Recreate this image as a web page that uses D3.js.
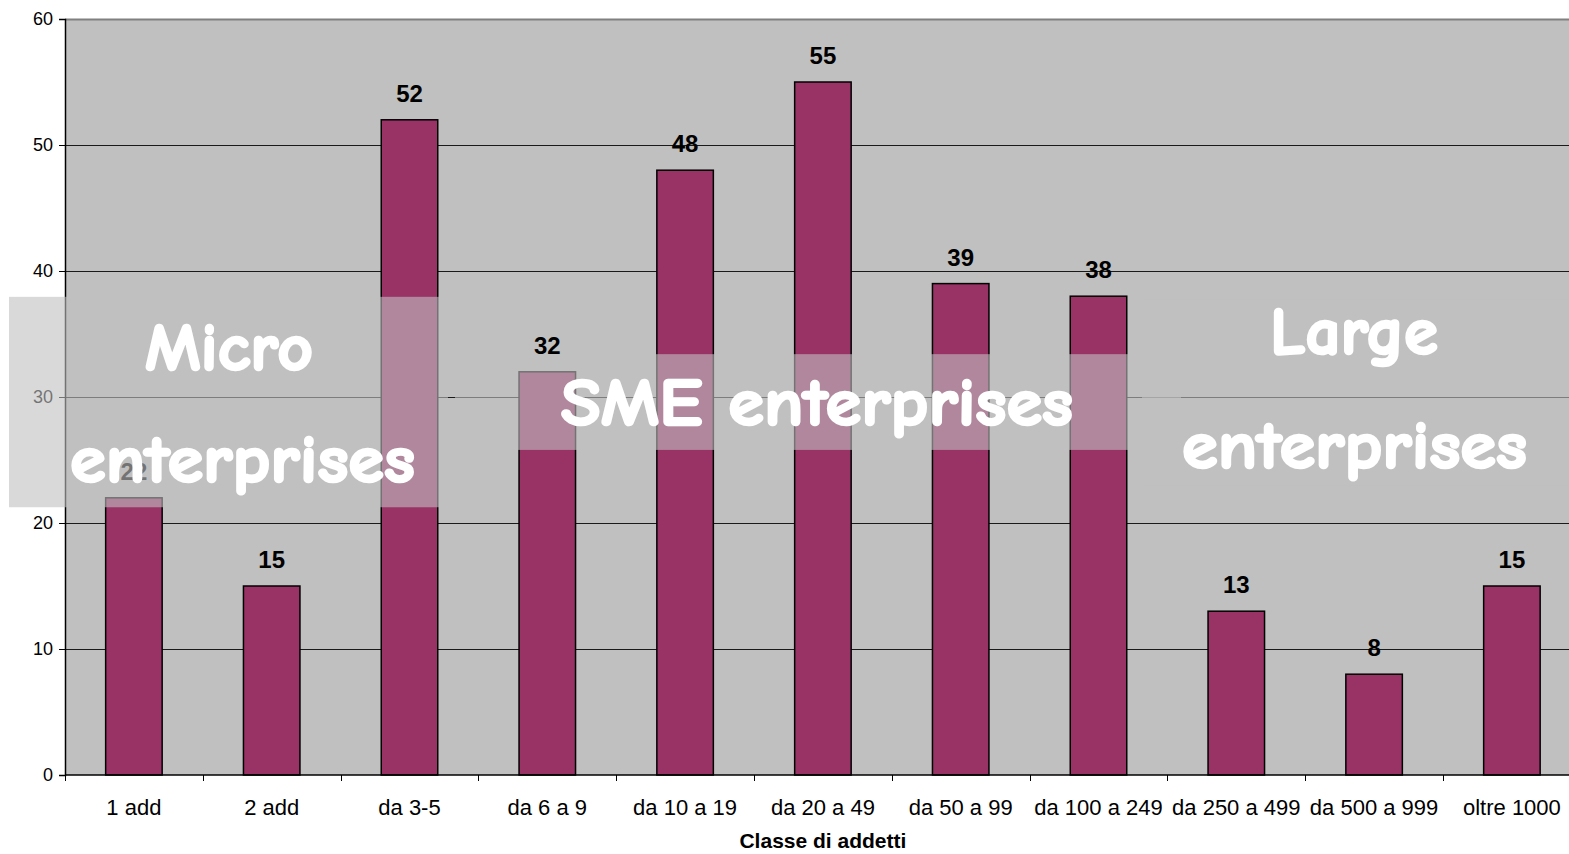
<!DOCTYPE html>
<html>
<head>
<meta charset="utf-8">
<script src="https://cdnjs.cloudflare.com/ajax/libs/d3/7.8.5/d3.min.js"></script>
<style>
  body { margin: 0; background: #fff; }
  text { font-family: "Liberation Sans", Arial, sans-serif; }
</style>
</head>
<body>
<div id="chart"></div>
<script>
// data
var categories = ["1 add", "2 add", "da 3-5", "da 6 a 9", "da 10 a 19", "da 20 a 49",
    "da 50 a 99", "da 100 a 249", "da 250 a 499", "da 500 a 999", "oltre 1000"];
var values = [22, 15, 52, 32, 48, 55, 39, 38, 13, 8, 15];
var yTicks = [0, 10, 20, 30, 40, 50, 60];

// annotation boxes (text labels drawn over the chart)
var groupNames = ["Micro", "SME", "Large"];
var groupLines = [["Micro", "enterprises"], ["SME enterprises"], ["Large", "enterprises"]];

var svg = d3.select("#chart").append("svg")
    .attr("width", 1569)
    .attr("height", 854);

var plotLeft = 65, plotTop = 19, plotBottom = 775;
var step = 137.8;
var plotRight = plotLeft + step * categories.length;

var x = d3.scaleBand()
    .domain(categories)
    .range([plotLeft, plotRight])
    .paddingInner(0.59)
    .paddingOuter(0.295);

var y = d3.scaleLinear()
    .domain([0, 60])
    .range([plotBottom, plotTop]);

// plot area
svg.append("rect")
    .attr("x", plotLeft)
    .attr("y", plotTop)
    .attr("width", plotRight - plotLeft)
    .attr("height", plotBottom - plotTop)
    .attr("fill", "#c0c0c0");

// gridlines
svg.append("g")
    .selectAll("line")
    .data(yTicks.filter(function (d) { return d > 0 && d < 60; }))
    .enter().append("line")
    .attr("x1", plotLeft)
    .attr("x2", plotRight)
    .attr("y1", function (d) { return Math.round(y(d)) + 0.5; })
    .attr("y2", function (d) { return Math.round(y(d)) + 0.5; })
    .attr("stroke", "#1a1a1a")
    .attr("stroke-width", 1);

// top border
svg.append("line")
    .attr("x1", plotLeft).attr("x2", 1569)
    .attr("y1", plotTop + 0.5).attr("y2", plotTop + 0.5)
    .attr("stroke", "#808080")
    .attr("stroke-width", 2);

// bars
svg.append("g")
    .selectAll("rect")
    .data(values)
    .enter().append("rect")
    .attr("x", function (d, i) { return x(categories[i]); })
    .attr("y", function (d) { return y(d); })
    .attr("width", x.bandwidth())
    .attr("height", function (d) { return plotBottom - y(d); })
    .attr("fill", "#993366")
    .attr("stroke", "#000")
    .attr("stroke-width", 1.5);

// value labels
svg.append("g")
    .selectAll("text")
    .data(values)
    .enter().append("text")
    .attr("x", function (d, i) { return x(categories[i]) + x.bandwidth() / 2; })
    .attr("y", function (d) { return y(d) - 18; })
    .attr("text-anchor", "middle")
    .style("font-size", "24px")
    .style("font-weight", "bold")
    .text(function (d) { return d; });

// y axis
var yAxis = d3.axisLeft(y).tickValues(yTicks).tickSize(6).tickPadding(6);
var yg = svg.append("g")
    .attr("transform", "translate(" + plotLeft + ",0)")
    .call(yAxis);
yg.select(".domain").attr("stroke", "#000").attr("stroke-width", 1.5);
yg.selectAll(".tick line").attr("stroke", "#000");
yg.selectAll(".tick text")
    .style("font-size", "18px")
    .style("font-family", "Liberation Sans, Arial, sans-serif")
    .attr("fill", "#000");

// x axis: ticks at category boundaries
var xAxisLine = svg.append("g");
xAxisLine.append("line")
    .attr("x1", plotLeft).attr("x2", 1569)
    .attr("y1", plotBottom).attr("y2", plotBottom)
    .attr("stroke", "#000").attr("stroke-width", 1.5);
xAxisLine.selectAll(".xt")
    .data(categories)
    .enter().append("line")
    .attr("class", "xt")
    .attr("x1", function (d) { return Math.round(x(d) - x.step() * 0.295) + 0.5; })
    .attr("x2", function (d) { return Math.round(x(d) - x.step() * 0.295) + 0.5; })
    .attr("y1", plotBottom)
    .attr("y2", plotBottom + 6)
    .attr("stroke", "#000");

svg.append("g")
    .selectAll("text")
    .data(categories)
    .enter().append("text")
    .attr("x", function (d) { return x(d) + x.bandwidth() / 2; })
    .attr("y", 815)
    .attr("text-anchor", "middle")
    .style("font-size", "22px")
    .text(function (d) { return d; });

svg.append("text")
    .attr("x", (plotLeft + plotRight) / 2)
    .attr("y", 848)
    .attr("text-anchor", "middle")
    .style("font-size", "21px")
    .style("font-weight", "bold")
    .text("Classe di addetti");

// overlay boxes
var boxes = [
    { x0: 9, x1: 448, v0: 37.95, v1: 21.25 },
    { x0: 455, x1: 1181, v0: 33.4, v1: 25.8 },
    { x0: 1142, x1: 1569, v0: 37.7, v1: 23.0 }
];
var textPos = [
    [{ x: 145, y: 370, w: 168 }, { x: 70, y: 482, w: 345 }],
    [{ x: 561, y: 425, w: 512 }],
    [{ x: 1270, y: 354, w: 168 }, { x: 1182, y: 468, w: 345 }]
];

var ov = svg.append("g");
ov.selectAll("rect")
    .data(boxes)
    .enter().append("rect")
    .attr("x", function (d) { return d.x0; })
    .attr("y", function (d) { return y(d.v0); })
    .attr("width", function (d) { return d.x1 - d.x0; })
    .attr("height", function (d) { return y(d.v1) - y(d.v0); })
    .attr("fill", "rgba(192,192,192,0.6)");

groupNames.forEach(function (g, i) {
    groupLines[i].forEach(function (line, j) {
        var p = textPos[i][j];
        ov.append("text")
            .attr("x", p.x)
            .attr("y", p.y)
            .attr("textLength", p.w)
            .attr("lengthAdjust", "spacingAndGlyphs")
            .style("font-family", "'Comic Sans MS', 'Comic Neue', 'Noto Sans', sans-serif")
            .style("font-size", "66px")
            .style("font-weight", "bold")
            .attr("fill", "#fff")
            .attr("stroke", "#fff")
            .attr("stroke-width", 2.5)
            .attr("stroke-linejoin", "round")
            .text(line);
    });
});
</script>
</body>
</html>
